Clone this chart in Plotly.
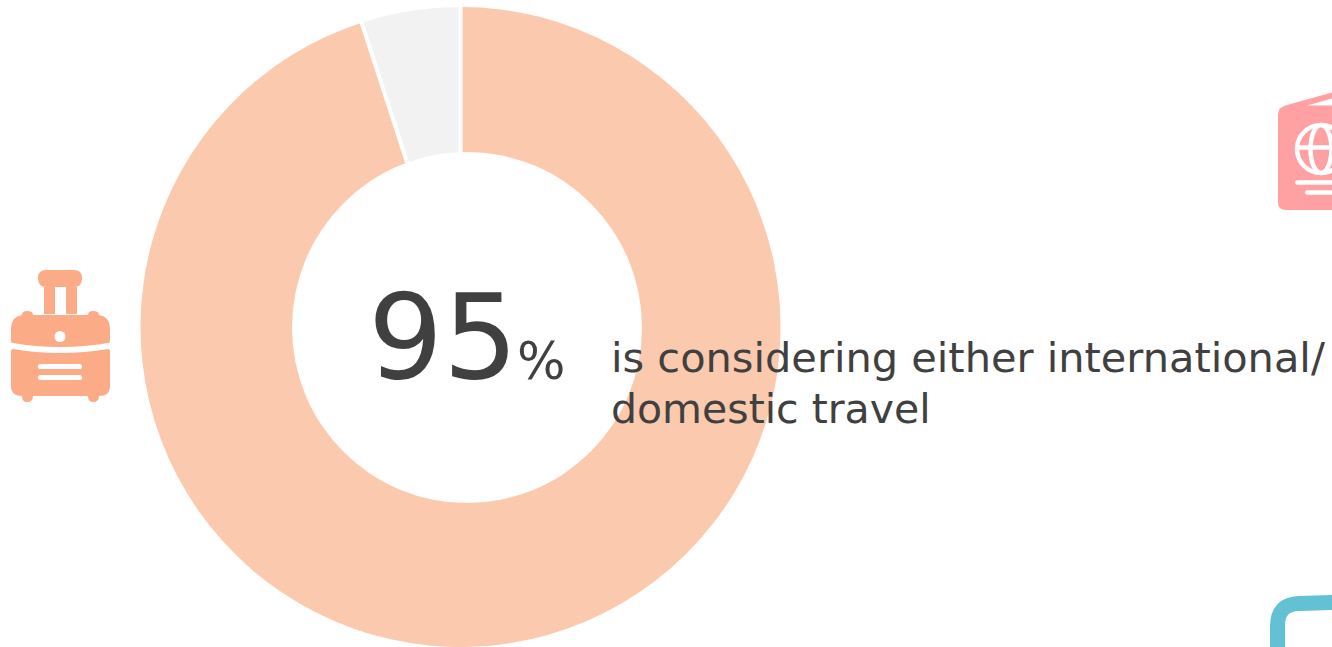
import math
import plotly.graph_objects as go

# Survey share shown in the donut
segments = ["Considering travel", "Not considering"]
shares = [95, 5]
slice_colors = ["#FBC9AE", "#F2F2F2"]

headline = "95"
unit = "%"
caption_lines = ["is considering either international/", "domestic travel"]

W, H = 1332, 647
INK = "#404040"
LUGGAGE = "#FBAC87"
PASSPORT = "#FFA0A2"
TEAL = "#62C1D2"
RING_X, RING_Y, RING_R = 460.5, 327, 320


def filled(path, color):
    return dict(type="path", path=path, fillcolor=color, line_width=0, xref="x", yref="y", layer="above")


def disc(cx, cy, rx, ry, fill=None, stroke=None, width=0):
    style = dict(line=dict(color=stroke or "rgba(0,0,0,0)", width=width))
    return dict(type="circle", x0=cx - rx, x1=cx + rx, y0=cy - ry, y1=cy + ry, xref="x", yref="y",
                fillcolor=fill or "rgba(0,0,0,0)", layer="above", **style)


def bar(x0, y0, x1, y1, color, width):
    return dict(type="line", x0=x0, y0=y0, x1=x1, y1=y1, xref="x", yref="y", layer="above",
                line=dict(color=color, width=width))


def pill(x0, x1, y, half, color):
    return filled(f"M{x0 + half},{y - half} L{x1 - half},{y - half} Q{x1},{y - half} {x1},{y} "
                  f"Q{x1},{y + half} {x1 - half},{y + half} L{x0 + half},{y + half} "
                  f"Q{x0},{y + half} {x0},{y} Q{x0},{y - half} {x0 + half},{y - half} Z", color)


def seam(fraction):
    # white radial gap at a slice boundary, clockwise from twelve o'clock
    a = 2 * math.pi * fraction
    return bar(RING_X, RING_Y, RING_X + (RING_R + 3) * math.sin(a), RING_Y - (RING_R + 3) * math.cos(a), "#FFFFFF", 4)


shapes = [
    seam(0),
    seam(shares[0] / sum(shares)),
    # donut hole
    disc(467, 327.5, 175, 175.5, fill="#FFFFFF"),
    # suitcase handle
    filled("M46,270 L74,270 Q82,270 82,278 Q82,287 74,287 L77,287 L77,314 L66,314 L66,287 L55,287 L55,314 "
           "L44,314 L44,287 L46,287 Q38,287 38,278 Q38,270 46,270 Z", LUGGAGE),
    # suitcase upper shell
    filled("M22,315 Q22,311 27,311 Q33,311 33,315 L88,315 Q88,311 93,311 Q99,311 99,315 "
           "Q110,317 110,328 L110,341 Q110,343 108,343 Q85,347 60,347 Q35,347 13,343 Q11,343 11,341 "
           "L11,328 Q11,317 22,315 Z", LUGGAGE),
    disc(60, 336.5, 5.5, 5.5, fill="#FFFFFF"),
    # suitcase lower shell
    filled("M13,349 Q35,353 60,353 Q85,353 108,349 Q110,349 110,351 L110,386 Q110,396 99,396 "
           "Q99,402 93,402 Q88,402 88,396 L33,396 Q33,402 27,402 Q22,402 22,396 Q11,396 11,386 "
           "L11,351 Q11,349 13,349 Z", LUGGAGE),
    pill(38, 82, 366.5, 2.6, "#FFFFFF"),
    pill(38, 82, 377.5, 2.6, "#FFFFFF"),
    # passport cover
    filled("M1287,105 L1332,92.5 L1332,210 L1286,210 Q1278,210 1278,202 L1278,115 Q1278,107 1287,105 Z", PASSPORT),
    filled("M1307,105.5 L1332,98.5 L1332,105.5 Z", "#FFFFFF"),
    disc(1321, 149, 24, 24, stroke="#FFFFFF", width=4.5),
    disc(1321, 149, 10.5, 24, stroke="#FFFFFF", width=4.5),
    bar(1296, 147.5, 1332, 147.5, "#FFFFFF", 4.5),
    pill(1295, 1340, 182.5, 2.3, "#FFFFFF"),
    pill(1305, 1340, 192.5, 2.3, "#FFFFFF"),
    # corner of the teal frame
    dict(type="path", path="M1277.5,652 L1277.5,626 Q1277.5,604 1299,603.5 L1335,602.5",
         line=dict(color=TEAL, width=15), xref="x", yref="y", layer="above"),
]


def label(text, x, y, size):
    return dict(text=text, x=x, y=y, xref="x", yref="y", xanchor="left", yanchor="middle", showarrow=False,
                font=dict(family="DejaVu Sans", size=size, color=INK))


annotations = [
    label(headline, 366, 337, 118),
    label(unit, 515, 361, 51),
    label(caption_lines[0], 609, 357, 41.5),
    label(caption_lines[1], 609, 409, 41),
]

fig = go.Figure()
fig.add_trace(go.Pie(
    labels=segments, values=shares, sort=False, direction="clockwise", rotation=0, hole=0.5,
    marker=dict(colors=slice_colors, line=dict(width=0)),
    textinfo="none", hoverinfo="label+percent", showlegend=False,
    domain=dict(x=[(RING_X - RING_R) / W, (RING_X + RING_R) / W], y=[0, 1 - (RING_Y - RING_R) / H]),
))
# invisible carrier for the pixel-scaled axes the icons and labels use
fig.add_trace(go.Scatter(x=[], y=[], showlegend=False))
fig.update_layout(
    width=W, height=H, margin=dict(l=0, r=0, t=0, b=0), paper_bgcolor="#FFFFFF", plot_bgcolor="rgba(0,0,0,0)",
    xaxis=dict(range=[0, W], visible=False, fixedrange=True),
    yaxis=dict(range=[H, 0], visible=False, fixedrange=True),
    shapes=shapes, annotations=annotations, showlegend=False,
)
fig.write_html("out.html", config=dict(displayModeBar=False))
